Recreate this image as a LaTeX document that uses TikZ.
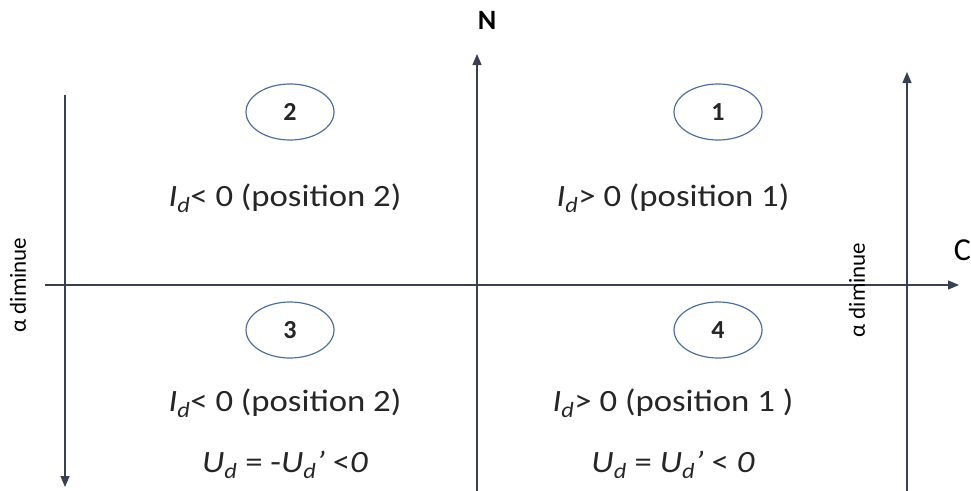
\documentclass[tikz,border=0pt]{standalone}
\usepackage{fontspec}
\setmainfont{Carlito}
\usetikzlibrary{arrows.meta,shapes.geometric}
\definecolor{axiscol}{HTML}{37414F}
\definecolor{ellcol}{HTML}{4F6E9C}
\newcommand{\Idx}{\textit{I}\textsubscript{\textit{d}}}
\newcommand{\Udx}{\textit{U}\textsubscript{\textit{d}}}
\begin{document}
\begin{tikzpicture}[x=1pt,y=-1pt,
  axis/.style={draw=axiscol,line width=1.2pt},
  tip/.style={-{Triangle[width=9pt,length=11pt]}},
  quad/.style={draw=ellcol,line width=1.2pt,ellipse,minimum width=88pt,minimum height=56pt,inner sep=0pt,font=\bfseries\fontsize{26}{28}\selectfont,text=black!85},
  lab/.style={font=\fontsize{31}{33}\selectfont,text=black!85,inner sep=0pt,xscale=1.12},
  side/.style={font=\fontsize{23}{25}\selectfont,rotate=90,inner sep=0pt}]
\useasboundingbox (0,0) rectangle (971,490);
% axis end points
\coordinate (hL) at (45,285);
\coordinate (hR) at (959,285);
\coordinate (nB) at (477,492);
\coordinate (nT) at (477,54);
\coordinate (rB) at (907,492);
\coordinate (rT) at (907,72);
\coordinate (lT) at (65,95);
\coordinate (lB) at (65,487);
\draw[axis,tip] (hL) -- (hR);
\draw[axis,tip] (nB) -- (nT);
\draw[axis,tip] (rB) -- (rT);
\draw[axis,tip] (lT) -- (lB);
\node[font=\bfseries\fontsize{28}{30}\selectfont,inner sep=0pt] (N) at (487,20) {N};
\node[font=\fontsize{32}{34}\selectfont,anchor=east,inner sep=0pt] (C) at (971,250) {C};
\node[side] (al) at (18,285) {α diminue};
\node[side] (ar) at (857,290) {α diminue};
% quadrant numbers
\node[quad] (q2) at (290,112) {2};
\node[quad] (q1) at (718,112) {1};
\node[quad] (q3) at (290,330) {3};
\node[quad] (q4) at (718,330) {4};
% texts
\node[lab] (t2) at (285,198) {\Idx{}< 0 (position 2)};
\node[lab] (t1) at (673,198) {\Idx{}> 0 (position 1)};
\node[lab] (t3) at (285,403) {\Idx{}< 0 (position 2)};
\node[lab] (t4) at (673,403) {\Idx{}> 0 (position 1 )};
\node[lab] (u3) at (285,465) {\Udx{} = -\Udx\textit{'} <\textit{0}};
\node[lab] (u4) at (673,465) {\Udx{} = \Udx\textit{'} < \textit{0}};
\end{tikzpicture}
\end{document}
